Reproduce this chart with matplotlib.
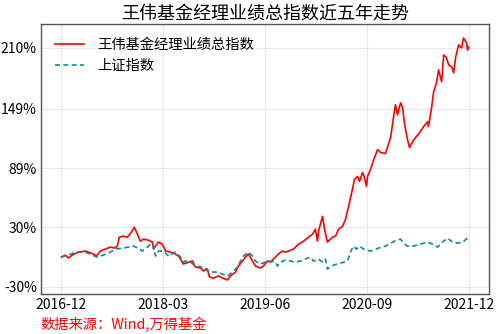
import pandas as pd
import matplotlib.pyplot as plt
import matplotlib.dates as mdates
from matplotlib.ticker import FixedLocator

plt.rcParams['font.family'] = ['Noto Sans CJK SC', 'DejaVu Sans']
plt.rcParams['axes.unicode_minus'] = False

# fund manager performance index, cumulative return in %
fund_dates = [
    '2016-12-01', '2016-12-19', '2017-01-01', '2017-01-19', '2017-02-15', '2017-03-19',
    '2017-04-01', '2017-04-24', '2017-05-07', '2017-05-25', '2017-06-16', '2017-07-09',
    '2017-07-27', '2017-08-09', '2017-08-18', '2017-09-05', '2017-09-23', '2017-10-11',
    '2017-10-24', '2017-11-07', '2017-11-20', '2017-12-04', '2017-12-26', '2018-01-13',
    '2018-01-18', '2018-01-27', '2018-02-09', '2018-02-27', '2018-03-13', '2018-04-04',
    '2018-04-26', '2018-05-10', '2018-05-19', '2018-06-01', '2018-06-24', '2018-07-12',
    '2018-07-25', '2018-08-17', '2018-08-30', '2018-09-17', '2018-09-26', '2018-10-14',
    '2018-11-05', '2018-11-23', '2018-12-16', '2018-12-29', '2019-01-21', '2019-02-03',
    '2019-02-21', '2019-03-06', '2019-03-20', '2019-04-07', '2019-04-20', '2019-05-13',
    '2019-05-26', '2019-06-13', '2019-06-27', '2019-07-10', '2019-08-01', '2019-08-19',
    '2019-09-02', '2019-09-15', '2019-10-08', '2019-10-30', '2019-11-22', '2019-12-14',
    '2020-01-01', '2020-01-14', '2020-01-23', '2020-01-28', '2020-02-15', '2020-02-24',
    '2020-03-08', '2020-03-31', '2020-04-13', '2020-04-27', '2020-05-15', '2020-05-28',
    '2020-06-11', '2020-06-28', '2020-07-07', '2020-07-21', '2020-07-30', '2020-08-12',
    '2020-08-21', '2020-08-30', '2020-09-04', '2020-09-17', '2020-10-05', '2020-10-19',
    '2020-11-01', '2020-11-23', '2020-12-02', '2020-12-16', '2020-12-29', '2021-01-07',
    '2021-01-16', '2021-01-30', '2021-02-08', '2021-02-17', '2021-03-02', '2021-03-11',
    '2021-03-25', '2021-04-07', '2021-04-25', '2021-05-13', '2021-05-31', '2021-06-04',
    '2021-06-18', '2021-06-27', '2021-07-10', '2021-07-19', '2021-08-02', '2021-08-11',
    '2021-08-24', '2021-09-02', '2021-09-16', '2021-09-25', '2021-10-04', '2021-10-17',
    '2021-10-30', '2021-11-08', '2021-11-22', '2021-11-26', '2021-12-01',
]
fund_values = [
    0, 2, -1, 2, 5, 6,
    5, 3, 1, 6, 8, 10,
    9, 11, 20, 21, 20, 25,
    30, 23, 16, 18, 17, 15,
    8, 11, 15, 13, 6, 5,
    3, 1, -2, -7, -5, -4,
    -10, -11, -14, -12, -20, -21,
    -19, -21, -23, -19, -15, -9,
    -4, 0, 3, -4, -9, -11,
    -9, -4, -5, -2, 3, 6,
    5, 6, 8, 13, 16, 20,
    23, 28, 16, 26, 41, 28,
    15, 20, 21, 28, 31, 38,
    51, 68, 78, 81, 76, 85,
    80, 71, 81, 88, 100, 108,
    105, 104, 110, 120, 140, 153,
    143, 155, 150, 133, 118, 110,
    116, 120, 125, 131, 136, 131,
    150, 166, 175, 188, 176, 203,
    200, 193, 191, 185, 201, 213,
    210, 220, 215, 208, 211,
]

# Shanghai composite, cumulative return in %
sh_dates = [
    '2016-12-01', '2017-01-01', '2017-02-02', '2017-03-19', '2017-04-19', '2017-05-11',
    '2017-06-07', '2017-07-09', '2017-07-31', '2017-09-01', '2017-09-28', '2017-10-20',
    '2017-11-11', '2017-11-29', '2017-12-22', '2018-01-09', '2018-01-18', '2018-01-27',
    '2018-02-09', '2018-03-04', '2018-03-26', '2018-04-26', '2018-05-19', '2018-06-01',
    '2018-06-10', '2018-07-03', '2018-07-25', '2018-08-17', '2018-09-08', '2018-09-21',
    '2018-10-09', '2018-11-01', '2018-11-23', '2018-12-16', '2019-01-07', '2019-01-30',
    '2019-02-12', '2019-02-25', '2019-03-20', '2019-04-07', '2019-04-20', '2019-05-13',
    '2019-06-04', '2019-06-27', '2019-07-19', '2019-07-28', '2019-08-10', '2019-09-02',
    '2019-09-24', '2019-10-17', '2019-11-08', '2019-12-10', '2019-12-23', '2020-01-05',
    '2020-01-28', '2020-02-15', '2020-02-28', '2020-03-08', '2020-04-04', '2020-05-06',
    '2020-06-06', '2020-06-19', '2020-07-03', '2020-07-16', '2020-07-30', '2020-08-17',
    '2020-09-17', '2020-10-23', '2020-11-23', '2020-12-25', '2021-01-12', '2021-01-30',
    '2021-02-12', '2021-03-02', '2021-03-29', '2021-04-29', '2021-05-31', '2021-06-22',
    '2021-07-15', '2021-08-06', '2021-08-29', '2021-09-20', '2021-10-12', '2021-11-04',
    '2021-11-26', '2021-12-01',
]
sh_values = [
    0, 2, 5, 5, 2, 0,
    2, 5, 8, 9, 10, 11,
    9, 6, 10, 14, 11, 1,
    6, 6, 1, 5, 0, -5,
    -4, -5, -9, -10, -11, -15,
    -15, -15, -17, -19, -15, -10,
    -4, 1, 5, 1, -4, -7,
    -5, -4, -5, -9, -5, -3,
    -4, -5, -4, -1, 0, -4,
    -2, -5, -2, -12, -8, -6,
    -4, 5, 11, 8, 11, 8,
    6, 9, 11, 15, 17, 18,
    14, 11, 11, 13, 15, 13,
    10, 15, 19, 15, 14, 15,
    19, 19,
]

x_ticks = ['2016-12', '2018-03', '2019-06', '2020-09', '2021-12']
y_ticks = [-30, 30, 89, 149, 210]

fig = plt.figure(figsize=(5, 3.34), dpi=100)
ax = fig.add_axes([0.082, 0.12, 0.896, 0.808])

ax.plot(pd.to_datetime(fund_dates), fund_values, '-', c='red', lw=1.2,
        label='王伟基金经理业绩总指数')
ax.plot(pd.to_datetime(sh_dates), sh_values, '--', c='#108a8a', lw=1.2,
        dashes=(3, 2), label='上证指数')

ax.xaxis.set_major_locator(FixedLocator(mdates.date2num(pd.to_datetime(x_ticks))))
ax.xaxis.set_major_formatter(mdates.DateFormatter('%Y-%m'))
ax.set_yticks(y_ticks)
ax.set_yticklabels([f'{v}%' for v in y_ticks])
ax.set_ylim(-37, 234)

ax.tick_params(labelsize=10, length=0, pad=3)
ax.grid(color='#e8e8e8', lw=0.8)
ax.set_axisbelow(True)
for s in ax.spines.values():
    s.set_color('#555555')
    s.set_linewidth(1.0)

ax.set_title('王伟基金经理业绩总指数近五年走势', fontsize=13, pad=3)
ax.legend(loc='upper left', frameon=False, fontsize=10.3, handlelength=2.0,
          handletextpad=0.9, borderaxespad=0.6, labelspacing=0.45)

fig.text(0.08, 0.015, '数据来源：Wind,万得基金', color='red', fontsize=10.3)

fig.savefig('out.png', dpi=100)
